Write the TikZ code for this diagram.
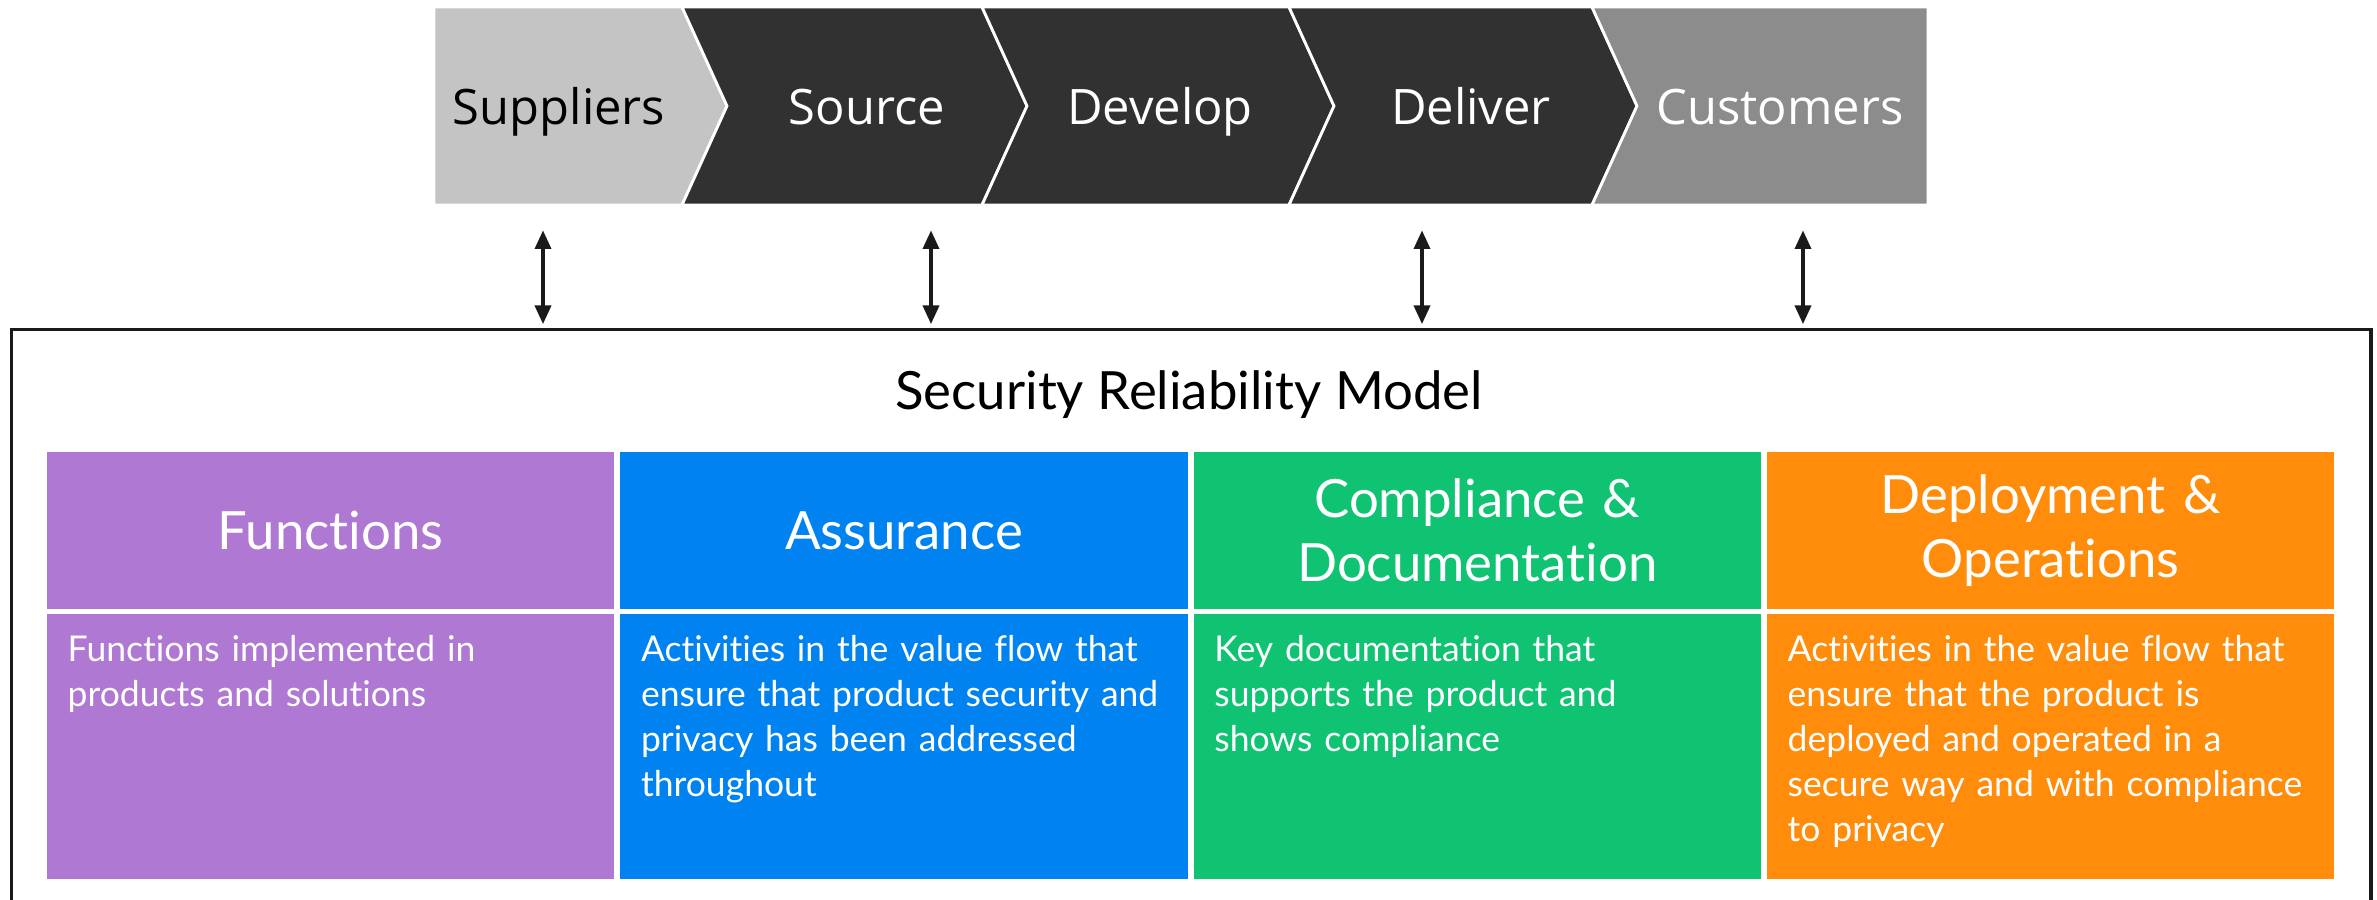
\documentclass[tikz,border=0pt]{standalone}
\usepackage{fontspec}
\setmainfont{Lato}[Ligatures=NoCommon]
\newfontfamily\chevfont{Open Sans}
\usetikzlibrary{positioning,arrows.meta}

\definecolor{fnpurple}{HTML}{AF78D2}
\definecolor{asblue}{HTML}{0082F0}
\definecolor{cpgreen}{HTML}{0FC373}
\definecolor{dporange}{HTML}{FF8C0A}
\definecolor{stagelight}{HTML}{C4C4C4}
\definecolor{stagedark}{HTML}{313131}
\definecolor{stagemid}{HTML}{8C8C8C}
\definecolor{linkblack}{HTML}{1A1A1A}

\begin{document}
\begin{tikzpicture}[x=0.01cm, y=-0.01cm,
        stage/.style={draw=white, line width=0.8pt, line join=miter},
        stagelabel/.style={font=\chevfont\fontsize{13.9}{16}\selectfont, anchor=base, inner sep=0pt},
        link/.style={{Triangle[width=4.4pt,length=5.4pt]}-{Triangle[width=4.4pt,length=5.4pt]}, line width=1.4pt, draw=linkblack, shorten >=1pt},
        modelbox/.style={draw=linkblack, line width=0.9pt, minimum width=23.58cm, minimum height=6cm, anchor=north west, inner sep=0pt},
        title/.style={font=\fontsize{15}{18}\selectfont, anchor=base},
        head/.style={fill=#1, text=white, minimum width=5.67cm, minimum height=1.57cm, inner sep=0pt, outer sep=0pt, text width=5.4cm, align=center, font=\fontsize{15}{18.3}\selectfont},
        body/.style={fill=#1, minimum width=5.67cm, minimum height=2.65cm, inner sep=0pt, outer sep=0pt},
        bodytext/.style={text=white, text width=5.45cm, align=left, inner sep=0pt, font=\fontsize{10.1}{12.75}\selectfont}
    ]
    \clip (0,0) rectangle (2377,900);

    % value flow
    \draw[stage, fill=stagelight] (434,7) -- (682,7) -- (727,106) -- (682,205) -- (434,205) -- cycle;
    \foreach \a/\b in {682/982, 982/1289, 1289/1592}
        \draw[stage, fill=stagedark] (\a,7) -- (\b,7) -- (\b+45,106) -- (\b,205) -- (\a,205) -- (\a+45,106) -- cycle;
    \draw[stage, fill=stagemid] (1592,7) -- (1928,7) -- (1928,205) -- (1592,205) -- (1637,106) -- cycle;

    \node[stagelabel, text=black] (sup) at (559,124) {Suppliers};
    \node[stagelabel, text=white] (src) at (867,124) {Source};
    \node[stagelabel, text=white] (dev) at (1160,124) {Develop};
    \node[stagelabel, text=white] (dlv) at (1471,124) {Deliver};
    \node[stagelabel, text=white] (cst) at (1780,124) {Customers};

    % model
    \node[modelbox] (model) at (10,328) {};
    \node[title] (srm) at (1189,409) {Security Reliability Model};

    \foreach \x/\n in {543/supend, 931/srcend, 1422/dlvend, 1803/cstend} {
        \coordinate (\n) at (\x,230);
        \draw[link] (\n) -- (\n |- model.north);
    }

    \node[head=fnpurple, anchor=north west] (fnhead) at (47,452) {Functions};
    \node[head=asblue, right=0.06cm of fnhead] (ashead) {Assurance};
    \node[head=cpgreen, right=0.06cm of ashead] (cphead) {Compliance \&\\Documentation};
    \node[head=dporange, right=0.06cm of cphead] (dphead) {Deployment \&\\Operations};

    \node[body=fnpurple, below=0.05cm of fnhead] (fnbody) {};
    \node[body=asblue, below=0.05cm of ashead] (asbody) {};
    \node[body=cpgreen, below=0.05cm of cphead] (cpbody) {};
    \node[body=dporange, below=0.05cm of dphead] (dpbody) {};

    \node[bodytext, below right=0.21cm and 0.2cm of fnbody.north west] (fntext) {Functions implemented in\\products and solutions};
    \node[bodytext, below right=0.21cm and 0.2cm of asbody.north west] (astext) {Activities in the value flow that\\ensure that product security and\\privacy has been addressed\\throughout};
    \node[bodytext, below right=0.21cm and 0.2cm of cpbody.north west] (cptext) {Key documentation that\\supports the product and\\shows compliance};
    \node[bodytext, below right=0.21cm and 0.2cm of dpbody.north west] (dptext) {Activities in the value flow that\\ensure that the product is\\deployed and operated in a\\secure way and with compliance\\to privacy};
\end{tikzpicture}
\end{document}
